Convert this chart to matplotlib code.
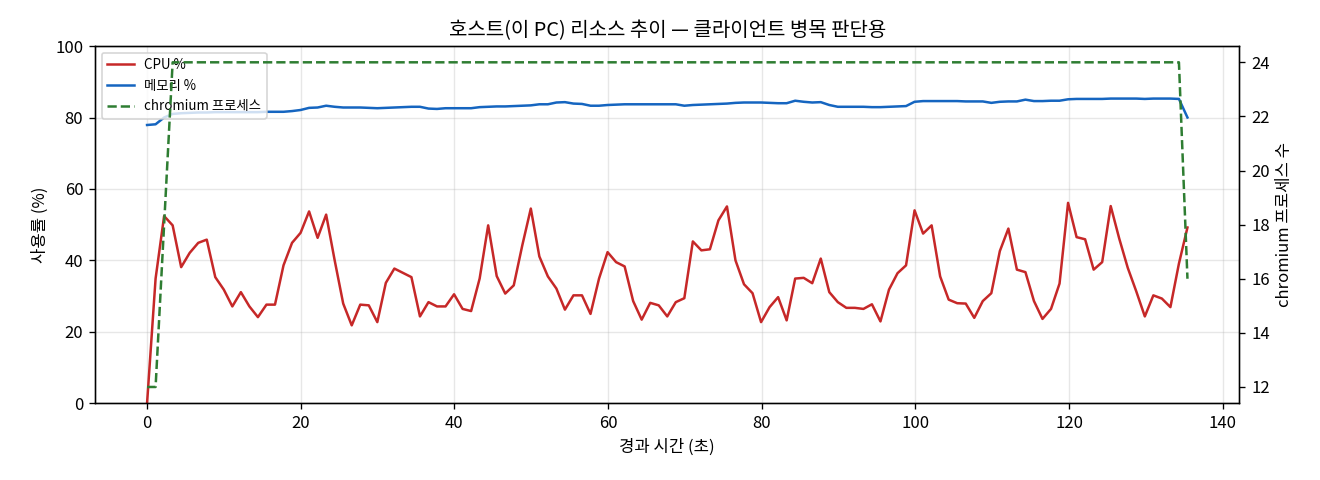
import numpy as np
import matplotlib
matplotlib.use('Agg')
import matplotlib.pyplot as plt

plt.rcParams['font.family'] = ['Noto Sans CJK KR', 'DejaVu Sans']
plt.rcParams['axes.unicode_minus'] = False

# sample interval ~1.11 s
n_samples = 123
t_end = 135.4

cpu = [0, 34.9, 52.4, 49.8, 38.1, 42.1, 44.9, 45.8, 35.3, 31.8,
       27.1, 31.1, 27.1, 24.1, 27.6, 27.6, 38.6, 44.9, 47.7, 53.7,
       46.3, 52.8, 40.0, 27.9, 21.8, 27.6, 27.4, 22.7, 33.7, 37.7,
       36.5, 35.3, 24.3, 28.3, 27.1, 27.1, 30.5, 26.4, 25.8, 34.9,
       49.8, 35.6, 30.7, 33.0, 44.2, 54.5, 41.1, 35.5, 32.1, 26.2,
       30.2, 30.2, 25.0, 34.9, 42.3, 39.5, 38.3, 28.6, 23.4, 28.1,
       27.4, 24.3, 28.3, 29.4, 45.3, 42.8, 43.1, 51.2, 55.1, 40.0,
       33.3, 30.8, 22.7, 26.9, 29.7, 23.2, 34.9, 35.1, 33.6, 40.5,
       31.1, 28.3, 26.7, 26.7, 26.4, 27.7, 22.9, 31.8, 36.4, 38.6,
       54.0, 47.5, 49.8, 35.5, 29.0, 28.0, 27.9, 23.9, 28.6, 30.8,
       42.6, 48.9, 37.4, 36.7, 28.6, 23.6, 26.4, 33.5, 56.1, 46.5,
       45.9, 37.4, 39.5, 55.2, 46.1, 37.9, 31.3, 24.3, 30.2, 29.3,
       26.9, 39.1, 49.2]

mem = [77.9, 78.1, 80.0, 81.0, 81.2, 81.3, 81.4, 81.4, 81.5, 81.5,
       81.5, 81.5, 81.5, 81.5, 81.6, 81.6, 81.6, 81.8, 82.1, 82.7,
       82.8, 83.3, 83.0, 82.8, 82.8, 82.8, 82.7, 82.6, 82.7, 82.8,
       82.9, 83.0, 83.0, 82.5, 82.4, 82.6, 82.6, 82.6, 82.6, 82.9,
       83.0, 83.1, 83.1, 83.2, 83.3, 83.4, 83.7, 83.7, 84.2, 84.3,
       83.9, 83.8, 83.3, 83.3, 83.5, 83.6, 83.7, 83.7, 83.7, 83.7,
       83.7, 83.7, 83.7, 83.3, 83.5, 83.6, 83.7, 83.8, 83.9, 84.1,
       84.2, 84.2, 84.2, 84.1, 84.0, 84.0, 84.7, 84.4, 84.2, 84.3,
       83.5, 83.0, 83.0, 83.0, 83.0, 82.9, 82.9, 83.0, 83.1, 83.2,
       84.4, 84.6, 84.6, 84.6, 84.6, 84.6, 84.5, 84.5, 84.5, 84.1,
       84.4, 84.5, 84.5, 85.0, 84.6, 84.6, 84.7, 84.7, 85.1, 85.2,
       85.2, 85.2, 85.2, 85.3, 85.3, 85.3, 85.3, 85.2, 85.3, 85.3,
       85.3, 85.2, 80.0]

chromium = [12, 12, 18] + [24] * 119 + [16]

t = np.linspace(0, t_end, n_samples)

fig, ax = plt.subplots(figsize=(11, 4), dpi=120)
ax2 = ax.twinx()

l1, = ax.plot(t, cpu, color='#c62828', lw=1.5, label='CPU %')
l2, = ax.plot(t, mem, color='#1565c0', lw=1.5, label='메모리 %')
l3, = ax2.plot(t, chromium, color='#2e7d32', lw=1.5, ls='--', label='chromium 프로세스')

ax.set_ylim(0, 100)
ax.set_xlabel('경과 시간 (초)')
ax.set_ylabel('사용률 (%)')
ax2.set_ylabel('chromium 프로세스 수')
ax.set_title('호스트(이 PC) 리소스 추이 — 클라이언트 병목 판단용')
ax.grid(alpha=0.3)

ax.legend([l1, l2, l3], [l.get_label() for l in (l1, l2, l3)],
          loc='upper left', fontsize=8)

fig.subplots_adjust(left=0.072, right=0.939, top=0.904, bottom=0.160)
fig.savefig('out.png')
